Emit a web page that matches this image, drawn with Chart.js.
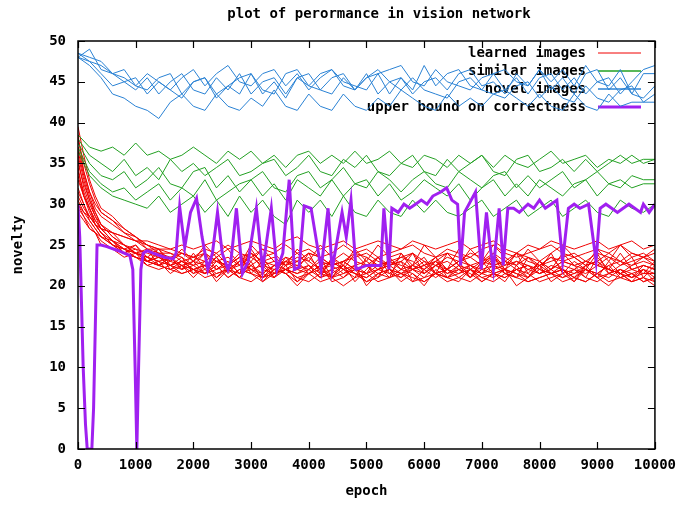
<!DOCTYPE html>
<html>
<head>
<meta charset="utf-8">
<script src="https://cdn.jsdelivr.net/npm/chart.js@4.4.1/dist/chart.umd.min.js"></script>
<style>
  html, body { margin: 0; padding: 0; background: #fff; }
  #wrap { width: 684px; height: 505px; }
</style>
</head>
<body>
<div id="wrap"><canvas id="chart" width="684" height="505"></canvas></div>
<script>
// sample epochs for the green / blue runs
const epochs = [0,200,400,600,800,1000,1200,1400,1600,1800,2000,2200,2400,2600,2800,3000,3200,3400,3600,3800,4000,4200,4400,4600,4800,5000,5200,5400,5600,5800,6000,6200,6400,6600,6800,7000,7200,7400,7600,7800,8000,8200,8400,8600,8800,9000,9200,9400,9600,9800,10000];

// sample epochs for the red runs (denser at the start)
const redEpochs = [0,100,200,300,400,600,800,1000,1200,1400,1600,1800,2000,2200,2400,2600,2800,3000,3200,3400,3600,3800,4000,4200,4400,4600,4800,5000,5200,5400,5600,5800,6000,6200,6400,6600,6800,7000,7200,7400,7600,7800,8000,8200,8400,8600,8800,9000,9200,9400,9600,9800,10000];

// learned images
const learned1 = [39.5,36,33,31,29.5, 28.5,27,26,25,24,23.5,24,23, 22.5,23.5,22,23,22.5,21.5,22.5,23, 22,21.5,22.5,23,22,22.5,21.5,22, 23,22.5,22,21.5,22.5,22,23,22.5, 21.5,22,22.5,23,22,21.5,22.5,22, 21.5,22.5,23,22,21.5,22,22.5,22];
const learned2 = [38,35,32.5,30.5,29, 28,26.5,25.5,24.5,24,24,23,23.5, 24,23,22.5,23.5,24,23,22.5,23.5, 23,24,23.5,22.5,23,24,23.5,22.5, 23,23.5,24,23,22.5,23.5,23,24, 23.5,22.5,23,24,23.5,22.5,23,23.5, 24,23,22.5,23.5,23,24,23.5,23];
const learned3 = [36.5,33.5,31,29,27.5, 26,25,24,23.5,23,22.5,23,22, 21.5,22.5,21,22,21.5,20.5,21.5,22, 21,21.5,20.5,21,22,21.5,20.5,21, 22,21.5,21,20.5,21.5,22,21,20.5, 21.5,21,22,21.5,20.5,21,21.5,22, 21,20.5,21.5,21,22,21.5,20.5,21];
const learned4 = [35,32.5,30.5,28.5,27.5, 26,25,24.5,24,23.5,23,24,23.5, 23,24,22.5,23.5,23,24.5,23,22.5, 23.5,23,22,23,24,23,22.5,23.5, 22.5,23,24,22.5,23.5,22,23,23.5, 22.5,24,23,22.5,23.5,23,22,23, 23.5,22.5,23,24,23,22.5,23.5,24];
const learned5 = [34,31.5,29.5,28,27, 25.5,24.5,24,23.5,22.5,23,22.5,22, 22.5,21.5,22,23,22,21.5,22.5,21.5, 22,22.5,21.5,22,21,22,22.5,21.5, 22,21.5,22.5,22,21,22,21.5,22.5, 22,21.5,21,22,22.5,21.5,22,21, 22,21.5,22.5,22,21.5,21,22,21.5];
const learned6 = [33,31,29.5,28,27, 25.5,25,24,23.5,23,23.5,22.5,23, 24,23,23.5,22.5,24,23,23.5,22.5, 23,24,23.5,22.5,23,23.5,24,23, 22.5,23.5,23,22,23,24,23.5,22.5, 23,23.5,22.5,24,23,22.5,23.5,23, 22.5,23,24,23.5,22.5,23,23.5,22.5];
const learned7 = [32,30,28.5,27.5,26.5, 25.5,24.5,24,23,23.5,22.5,22,22.5, 21.5,22,23,21.5,22,21,22.5,22, 21.5,22.5,21,22,22.5,21.5,21,22, 22.5,21.5,22,21,22.5,21.5,22,21, 22,22.5,21.5,21,22,22.5,21.5,22, 21,22,21.5,22.5,21,21.5,22,20.5];
const learned8 = [31,29.5,28.5,27.5,27, 26.5,26,25.5,25,24.5,24.5,24,23.5, 24.5,24,25,24,23.5,24.5,24,25, 24,24.5,23.5,24,25,24,24.5,23.5, 24,24.5,25,24,23.5,24.5,24,23.5, 24.5,25,24,23.5,24,24.5,25,24, 23.5,24,24.5,24,25,24,23.5,24.5];
const learned9 = [30.5,29,28,27,26, 25,24,23.5,23,22.5,22,21.5,22, 21,21.5,22,21,20.5,21.5,21,22, 21,20.5,21.5,21,20,21,21.5,20.5, 21,21.5,20.5,21,21.5,20.5,21,22, 21,20.5,21.5,21,20.5,21,21.5,20.5, 21,20.5,21.5,20.5,21,20.5,21,20];
const learned10 = [30,29,28.5,27.5,27, 26.5,26,25.5,25.5,25,24.5,25,24.5, 25,25.5,24.5,25,25.5,25,24.5,25.5, 26,25,24.5,25,25.5,24.5,25,25.5, 25,24.5,25.5,25,24.5,25,25.5,24.5, 25,25.5,24.5,24,25,24.5,25.5,25, 24.5,25,25.5,24.5,25,25.5,24.5,25];
const learned11 = [29.5,28.5,27.5,26.5,26, 25,24.5,23.5,23,23.5,22.5,23,22, 22.5,23,22,22.5,23.5,22.5,22,23, 22.5,22,23,22.5,21.5,22.5,23,22, 22.5,23,22,22.5,23,21.5,22.5,22, 23,22.5,22,23,22.5,22,21.5,22.5, 22,23,22.5,22,21.5,22.5,23,22.5];
const learned12 = [29,28,27,26.5,25.5, 24.5,24,23.5,22.5,22,22.5,21.5,22, 21.5,22.5,21,22,21.5,21,22,21.5, 20.5,21.5,22,21,21.5,22,20.5,21.5, 21,22,21.5,20.5,21.5,21,22,21.5, 20.5,21.5,21,22,21.5,20.5,21,21.5, 22,21,20.5,21.5,21,21.5,20.5,21];
const learned13 = [37,34,31.5,30,29, 28,27,26,25,24.5,24,23.5,22.5, 23,22,22.5,23.5,22,22.5,23,22, 22.5,23.5,22,22.5,23,22,21.5,22.5, 23,22,22.5,21.5,22.5,23,22,22.5, 21.5,22.5,23,22,22.5,21.5,22,23, 22.5,22,21.5,22.5,23,22,22.5,22];
const learned14 = [33.5,31,29,27.5,26.5, 25,24,23.5,23,22.5,22,22.5,21.5, 22,21,22,21.5,22.5,21,21.5,22, 21.5,22,21,21.5,22.5,21.5,21,22, 21.5,21,22,22.5,21.5,21,21.5,22, 21,21.5,22,21.5,21,22,21.5,21, 21.5,22,21,21.5,22,21,21.5,21.5];
const learned15 = [38.5,34,31.5,29.5,28.5, 27.5,26.5,26,24.5,24.5,22.5,23.5,21.5, 23,21,22.5,24,21.5,23,21,22.5, 20.5,22,23.5,21,22.5,20.5,22,23.5, 21.5,23,20.5,22,23.5,21,22.5,21, 23,21.5,20.5,22.5,21,23,21.5,22, 20.5,22.5,21,23,21.5,20.5,22,21];
const learned16 = [36,33,30.5,29,27.5, 26.5,25,24,24.5,22.5,23.5,22,24, 22,23.5,21.5,23,24,22,21.5,23.5, 22,24,21.5,23,22,24,22.5,21, 23.5,22,24,21.5,23,22,24.5,22, 21.5,23.5,22,24,21.5,23,22,24, 22.5,21,23.5,22,24,22,21.5,23];
const learned17 = [34.5,31,29.5,27.5,26.5, 25,24.5,25,23,24,22,23,22.5, 24,22,23,21.5,24.5,22.5,21,23, 24,22.5,21,23.5,22,21,23.5,22.5, 21,24,22,23,21.5,24,22.5,21, 23,24,22,21,23.5,22,24,21.5, 23,22,24,21.5,22.5,23.5,21,22.5];
const learned18 = [31.5,30,28,27,26, 25.5,24,25,23.5,24.5,23,24.5,23, 25,23.5,24.5,22.5,25,23.5,24,22.5, 24.5,23,25,23.5,22.5,24.5,23,25, 23.5,24,22.5,25,23.5,24,22.5,24.5, 23,25,23.5,22.5,24.5,23,24,25, 23.5,22.5,24.5,23,25,23.5,24,23];
const learned19 = [30,28.5,27,26.5,25, 24.5,23.5,24,22.5,23,21.5,22.5,21, 22.5,20.5,22,21,23,20.5,22,21.5, 20,21.5,22.5,20.5,21,22.5,20,21.5, 22,20.5,21.5,20,22,21,20.5,22, 20.5,21.5,22,20,21,22.5,20.5,21.5, 20.5,22,21,20,21.5,20.5,21,20.5];
const learned20 = [35.5,32,30,28.5,27, 25.5,24,24.5,23,22.5,23.5,22,23, 21.5,23,22.5,21,22.5,23.5,21.5,22, 23,21.5,22.5,21,23,22,21.5,23.5, 22,21,22.5,23.5,21.5,22,23,21, 22.5,23.5,21.5,22,21,22.5,23.5,22, 21,22.5,23,21.5,22,21,22.5,22];

// similar images
const similar1 = [38.5, 37,36.5,37,36,37.5,36,36.5,35.5,36,37, 36,35,36.5,35.5,36.5,35,36,34.5,36,36.5, 35,36,35,36.5,35,35.5,36.5,35,34.5,36, 35.5,34.5,36,35,36,34.5,36,35,34.5,35.5, 36.5,35,35.5,36,34.5,35.5,35,36,35,35.5];
const similar2 = [38, 36,35,34,35.5,33.5,34.5,33,35.5,34,35, 33.5,34.5,35.5,33.5,34,35,35.5,33.5,34.5,36, 34,33.5,35.5,34.5,36,34,33.5,35,36,34, 33.5,35.5,34,35,36,34,33.5,35.5,36,34, 34.5,35.5,34,35.5,34,35,36,35,35.5,35.5];
const similar3 = [37.5, 35,33.5,33,34,32,33,34.5,32.5,32,34, 34.5,32,33.5,31.5,33,34,32,31.5,33.5,34, 32,33,34.5,32.5,32,34,33,31.5,33,34, 32.5,32,34,33,32,33.5,34,32,33.5,32, 33,34,32,33,34,32.5,32,33.5,33,33];
const similar4 = [37, 34,32.5,31.5,32,30.5,31.5,32.5,30.5,32,31, 33,30.5,31.5,32.5,33,31,32.5,30.5,33,32, 31,33,31,32.5,33,31,32.5,30.5,31.5,33, 32,31,32.5,30.5,32,33,31,32.5,31,33, 32,31,32.5,33,31,32.5,33,32,32.5,32.5];
const similar5 = [36.5, 33.5,32,31,30.5,30,29.5,31,29,30,31, 29,30.5,28.5,31,29,30.5,28.5,27.5,30.5,29, 30.5,28.5,31,29,28.5,30.5,29,28.5,30.5,29, 30.5,29,28.5,29.5,30.5,28.5,29.5,30.5,28.5,29.5, 30.5,28.5,29.5,30.5,29,28.5,30.5,29.5,29,30];

// novel images
const novel1 = [48.5, 48,47.5,46,45.5,44.5,46,45,44,45.5,46.5, 44.5,46,47,45,44.5,46,46.5,44.5,46,44, 45.5,46.5,45,44.5,44,46,46.5,47,45,44.5, 46.5,45,44.5,44,45.5,46,44,45.5,43.5,45.5, 46,44,45.5,43.5,45,45.5,43.5,45,46.5,47];
const novel2 = [48, 49,46.5,46,45,44,45.5,43.5,45,46,44, 43.5,45.5,44,46,43.5,45,45.5,43.5,45.5,46, 44,43.5,45.5,44,46,43.5,45,45.5,43.5,45, 45.5,44,46,46.5,44.5,45,43.5,46,44.5,46.5, 44,45.5,43.5,46,46.5,44,45.5,43.5,43,44.5];
const novel3 = [48.5, 47.5,47,46,46.5,44.5,44,45.5,46,43.5,45, 45.5,43.5,44.5,45.5,46,44,43.5,46,46.5,44.5, 44,45.5,46,44,45.5,46.5,45,44,45.5,44, 43.5,43,45,45.5,44,43.5,43,44.5,45,43, 44.5,43,42.5,44.5,43,42.5,44,44.5,42.5,43.5];
const novel4 = [48, 47.5,46,44.5,45,45.5,43.5,45,44,43,45, 45.5,43,44.5,43.5,46,43.5,45,43,45.5,44.5, 46,46.5,44.5,44,45.5,46,43.5,45.5,44,47, 44.5,46,46.5,44.5,44,46,46.5,45,44.5,46.5, 45,46.5,44.5,47,45,44.5,46.5,43.5,46,46];
const novel5 = [48, 47,45.5,43.5,43,42,41.5,40.5,42.5,43.5,42, 41.5,43.5,42,41.5,43,42,44,42,41.5,43.5, 42,41.5,43.5,42,41.5,43,42,44,43,42, 41.5,43.5,42,43,42,43.5,44,43,42,43.5, 42,41.5,43.5,42,41.5,43.5,42,42.5,42.5,42.5];

// upper bound on correctness
const boundEpochs = [0,30,60,90,130,160,240,270,300,330,400,500,700,900,950,990,1020,1050,1090,1130,1200,1300,1500,1650,1700,1762,1850,1950,2055,2150,2250,2330,2418,2500,2600,2650,2746,2850,2950,3092,3200,3351,3450,3550,3661,3750,3834,3920,4040,4214,4335,4404,4577,4650,4732,4819,5000,5250,5302,5389,5440,5550,5650,5750,5850,5950,6050,6150,6287,6390,6480,6580,6632,6700,6890,6990,7080,7140,7200,7300,7370,7450,7550,7650,7800,7900,8000,8100,8200,8300,8400,8500,8600,8700,8850,8980,9050,9150,9250,9350,9450,9550,9650,9750,9800,9900,10000];
const boundValues = [30,26,18,10,3,0,0,5,15,25,25,24.8,24.3,23.7,22,10,0,10,22,24,24.3,24,23.5,23.3,24,29.7,24.7,29,30.7,26,22,24,29,24,22,23,29.5,21.5,23,29.5,22,29.5,22,24,33,22,22.3,29.8,29.5,22,29.5,22,29,26,30.5,22,22.5,22.5,29.5,22,29.5,29,30,29.5,30,30.5,30,31,31.5,32,30.5,30,22.5,29,31.5,22,29,25,22,29.5,22.5,29.5,29.5,29,30,29.5,30.5,29.5,30,30.5,23,29.5,30,29.5,30,23,29.5,30,29.5,29,29.5,30,29.5,29,30,29,30];

const learnedRuns = [learned1,learned2,learned3,learned4,learned5,learned6,learned7,learned8,learned9,learned10,
                     learned11,learned12,learned13,learned14,learned15,learned16,learned17,learned18,learned19,learned20];
const similarRuns = [similar1,similar2,similar3,similar4,similar5];
const novelRuns = [novel1,novel2,novel3,novel4,novel5];

const RED = "#f00000", GREEN = "#22a022", BLUE = "#2a82d4", PURPLE = "#a020f0";
const FONT = "'DejaVu Sans Mono', 'Liberation Mono', monospace";

function toPoints(xs, ys) {
    return ys.map((y, i) => ({ x: xs[i], y: y }));
}

function runSet(runs, xs, label, color, order) {
    return runs.map(vals => ({
        label: label,
        data: toPoints(xs, vals),
        borderColor: color,
        borderWidth: 1,
        pointRadius: 0,
        tension: 0,
        order: order
    }));
}

const datasets = [
    ...runSet(learnedRuns, redEpochs, "learned images", RED, 3),
    ...runSet(similarRuns, epochs, "similar images", GREEN, 2),
    ...runSet(novelRuns, epochs, "novel images", BLUE, 1),
    {
        label: "upper bound on correctness",
        data: toPoints(boundEpochs, boundValues),
        borderColor: PURPLE,
        borderWidth: 3,
        pointRadius: 0,
        tension: 0,
        order: 0
    }
];

const legendItems = [
    { text: "learned images", color: RED, width: 1 },
    { text: "similar images", color: GREEN, width: 1.5 },
    { text: "novel images", color: BLUE, width: 1.5 },
    { text: "upper bound on correctness", color: PURPLE, width: 3 }
];

// gnuplot-like frame, inward ticks, key and title
const gnuplotLook = {
    id: "gnuplotLook",
    beforeDatasetsDraw(chart) {
        const ctx = chart.ctx;
        ctx.save();
        ctx.font = "bold 14px " + FONT;
        ctx.textAlign = "right";
        ctx.textBaseline = "middle";
        legendItems.forEach((item, i) => {
            const y = 53 + i * 18;
            ctx.fillStyle = "#000";
            ctx.fillText(item.text, 586, y);
            ctx.strokeStyle = item.color;
            ctx.lineWidth = item.width;
            ctx.beginPath();
            ctx.moveTo(598, y);
            ctx.lineTo(641, y);
            ctx.stroke();
        });
        ctx.restore();
    },
    afterDatasetsDraw(chart) {
        const ctx = chart.ctx;
        const a = chart.chartArea;
        const xs = chart.scales.x, ys = chart.scales.y;
        ctx.save();
        ctx.strokeStyle = "#000";
        ctx.lineWidth = 1.5;
        ctx.strokeRect(a.left, a.top, a.right - a.left, a.bottom - a.top);
        ctx.lineWidth = 1.2;
        ctx.beginPath();
        xs.ticks.forEach(t => {
            const px = Math.round(xs.getPixelForValue(t.value)) + 0.5;
            ctx.moveTo(px, a.bottom); ctx.lineTo(px, a.bottom - 7);
            ctx.moveTo(px, a.top); ctx.lineTo(px, a.top + 7);
        });
        ys.ticks.forEach(t => {
            const py = Math.round(ys.getPixelForValue(t.value)) + 0.5;
            ctx.moveTo(a.left, py); ctx.lineTo(a.left + 7, py);
            ctx.moveTo(a.right, py); ctx.lineTo(a.right - 7, py);
        });
        ctx.stroke();
        ctx.restore();
    },
    afterDraw(chart) {
        const ctx = chart.ctx;
        ctx.save();
        ctx.font = "bold 14px " + FONT;
        ctx.fillStyle = "#000";
        ctx.textAlign = "center";
        ctx.textBaseline = "middle";
        ctx.fillText("plot of perormance in vision network", 379, 14);
        ctx.restore();
    }
};

new Chart(document.getElementById("chart"), {
    type: "line",
    data: { datasets: datasets },
    options: {
        responsive: false,
        animation: false,
        layout: { padding: { top: 41, right: 27, left: 0, bottom: 0 } },
        plugins: {
            legend: { display: false },
            title: { display: false },
            tooltip: { enabled: false }
        },
        scales: {
            x: {
                type: "linear",
                min: 0,
                max: 10000,
                grid: { display: false, drawTicks: false },
                border: { display: false },
                ticks: {
                    stepSize: 1000,
                    padding: 8,
                    color: "#000",
                    maxRotation: 0,
                    font: { family: FONT, size: 14, weight: "bold" },
                    callback: value => String(value)
                },
                title: {
                    display: true,
                    text: "epoch",
                    color: "#000",
                    padding: { top: 0, bottom: 5 },
                    font: { family: FONT, size: 14, weight: "bold" }
                },
                afterFit(scale) { scale.height = 56; }
            },
            y: {
                min: 0,
                max: 50,
                grid: { display: false, drawTicks: false },
                border: { display: false },
                ticks: {
                    stepSize: 5,
                    padding: 12,
                    color: "#000",
                    font: { family: FONT, size: 14, weight: "bold" },
                    callback: value => String(value)
                },
                title: {
                    display: true,
                    text: "novelty",
                    color: "#000",
                    padding: { top: 10, bottom: 0 },
                    font: { family: FONT, size: 14, weight: "bold" }
                },
                afterFit(scale) { scale.width = 78; }
            }
        }
    },
    plugins: [gnuplotLook]
});
</script>
</body>
</html>
